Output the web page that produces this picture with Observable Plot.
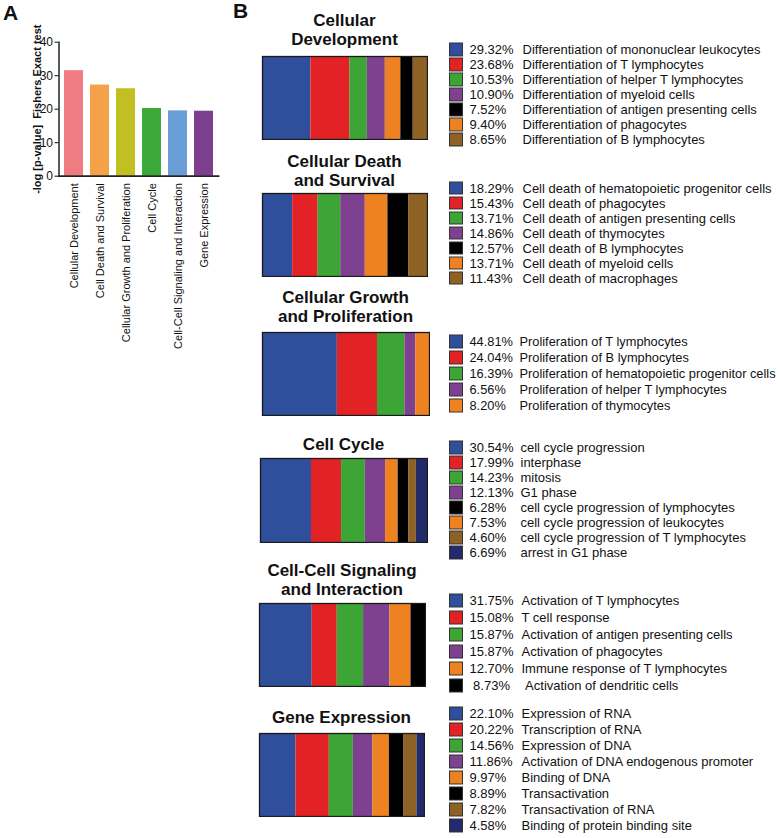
<!DOCTYPE html>
<html><head><meta charset="utf-8">
<script src="https://cdn.jsdelivr.net/npm/d3@7"></script>
<script src="https://cdn.jsdelivr.net/npm/@observablehq/plot@0.6"></script>
<style>
body{margin:0;background:#fff;font-family:"Liberation Sans",Arial,Helvetica,sans-serif;}
#root{position:relative;width:780px;height:838px;overflow:hidden;background:#fff;}
.abs{position:absolute;}
.panel{font-weight:bold;font-size:21px;line-height:21px;color:#111;}
.title{font-weight:bold;font-size:17px;text-align:center;line-height:19px;white-space:pre;color:#111;}
</style></head><body><div id="root"></div>
<script>
// ---------- Panel A data ----------
const categories = ["Cellular Development","Cell Death and Survival","Cellular Growth and Proliferation","Cell Cycle","Cell-Cell Signaling and Interaction","Gene Expression"];
const pValues = [31.5, 27.2, 26.1, 20.2, 19.5, 19.4];
const colorsA = ["#EE7C80","#F5A14A","#C2BF22","#3BAA3A","#6A9ED7","#7D3F8D"];
const yTicksA = [0,10,20,30,40];
const yTitleA = "-log [p-value] \u00a0Fishers Exact test";

// ---------- Panel B data ----------
const palette = {blue:"#2F4E9B", red:"#E32226", green:"#3DA436", purple:"#7D418F", orange:"#EF8220", black:"#000000", brown:"#8E6125", navy:"#212B6C"};
const stackOrder = ["blue","red","green","purple","orange","black","brown","navy"];

const titlesB = ["Cellular\nDevelopment","Cellular Death\nand Survival","Cellular Growth\nand Proliferation","Cell Cycle","Cell-Cell Signaling\nand Interaction","Gene Expression"];

const devPct = [29.32, 23.68, 10.53, 10.90, 7.52, 9.40, 8.65];
const devPctText = ["29.32%","23.68%","10.53%","10.90%","7.52%","9.40%","8.65%"];
const devLabels = ["Differentiation of mononuclear leukocytes","Differentiation of T lymphocytes","Differentiation of helper T lymphocytes","Differentiation of myeloid cells","Differentiation of antigen presenting cells","Differentiation of phagocytes","Differentiation of B lymphocytes"];
const devColors = ["blue","red","green","purple","black","orange","brown"];

const deathPct = [18.29, 15.43, 13.71, 14.86, 12.57, 13.71, 11.43];
const deathPctText = ["18.29%","15.43%","13.71%","14.86%","12.57%","13.71%","11.43%"];
const deathLabels = ["Cell death of hematopoietic progenitor cells","Cell death of phagocytes","Cell death of antigen presenting cells","Cell death of thymocytes","Cell death of B lymphocytes","Cell death of myeloid cells","Cell death of macrophages"];
const deathColors = ["blue","red","green","purple","black","orange","brown"];

const growthPct = [44.81, 24.04, 16.39, 6.56, 8.20];
const growthPctText = ["44.81%","24.04%","16.39%","6.56%","8.20%"];
const growthLabels = ["Proliferation of T lymphocytes","Proliferation of B lymphocytes","Proliferation of hematopoietic progenitor cells","Proliferation of helper T lymphocytes","Proliferation of thymocytes"];
const growthColors = ["blue","red","green","purple","orange"];

const cyclePct = [30.54, 17.99, 14.23, 12.13, 6.28, 7.53, 4.60, 6.69];
const cyclePctText = ["30.54%","17.99%","14.23%","12.13%","6.28%","7.53%","4.60%","6.69%"];
const cycleLabels = ["cell cycle progression","interphase","mitosis","G1 phase","cell cycle progression of lymphocytes","cell cycle progression of leukocytes","cell cycle progression of T lymphocytes","arrest in G1 phase"];
const cycleColors = ["blue","red","green","purple","black","orange","brown","navy"];

const signalPct = [31.75, 15.08, 15.87, 15.87, 12.70, 8.73];
const signalPctText = ["31.75%","15.08%","15.87%","15.87%","12.70%","\u00a08.73%"];
const signalLabels = ["Activation of T lymphocytes","T cell response","Activation of antigen presenting cells","Activation of phagocytes","Immune response of T lymphocytes","\u00a0Activation of dendritic cells"];
const signalColors = ["blue","red","green","purple","orange","black"];

const genePct = [22.10, 20.22, 14.56, 11.86, 9.97, 8.89, 7.82, 4.58];
const genePctText = ["22.10%","20.22%","14.56%","11.86%","9.97%","8.89%","7.82%","4.58%"];
const geneLabels = ["Expression of RNA","Transcription of RNA","Expression of DNA","Activation of DNA endogenous promoter","Binding of DNA","Transactivation","Transactivation of RNA","Binding of protein binding site"];
const geneColors = ["blue","red","green","purple","orange","black","brown","navy"];

// ---------- layout (positions only) ----------
const FONT = '"Liberation Sans", Arial, Helvetica, sans-serif';
const layoutB = [
  {titleTop: 10.6, barX: 261, barY: 55, barW: 167, barH: 85, legY: 47.5, sp: 15.6, labX: 73, fs: 13},
  {titleTop: 151.6, barX: 261, barY: 192, barW: 167, barH: 85, legY: 186, sp: 15.8, labX: 73, fs: 13},
  {titleTop: 287.6, barX: 261, barY: 331, barW: 169, barH: 85, legY: 340, sp: 16.5, labX: 70, fs: 12.8},
  {titleTop: 434.6, barX: 259, barY: 457, barW: 169, barH: 86, legY: 445, sp: 15.6, labX: 71, fs: 13},
  {titleTop: 560.6, barX: 258, barY: 602, barW: 168, barH: 85, legY: 600.5, sp: 17, labX: 72, fs: 13},
  {titleTop: 707.6, barX: 258, barY: 732, barW: 167, barH: 85, legY: 712, sp: 16.3, labX: 72, fs: 13}
];
const groupsB = [
  {pct: devPct, pctText: devPctText, labels: devLabels, colors: devColors},
  {pct: deathPct, pctText: deathPctText, labels: deathLabels, colors: deathColors},
  {pct: growthPct, pctText: growthPctText, labels: growthLabels, colors: growthColors},
  {pct: cyclePct, pctText: cyclePctText, labels: cycleLabels, colors: cycleColors},
  {pct: signalPct, pctText: signalPctText, labels: signalLabels, colors: signalColors},
  {pct: genePct, pctText: genePctText, labels: geneLabels, colors: geneColors}
];

const root = document.getElementById("root");
function place(el, left, top) {
  el.style.position = "absolute";
  el.style.left = left + "px";
  el.style.top = top + "px";
  root.appendChild(el);
  return el;
}
function div(cls, text) { const d = document.createElement("div"); d.className = cls; d.textContent = text; return d; }

// Panel labels
place(div("panel", "A"), 3, 2);
place(div("panel", "B"), 233, 0);

// ---------- Panel A ----------
const dataA = categories.map((c, i) => ({cat: c, v: pValues[i], color: colorsA[i]}));
const plotA = Plot.plot({
  width: 240, height: 380,
  marginLeft: 58.5, marginRight: 22, marginTop: 41.7, marginBottom: 204.3,
  style: {fontFamily: FONT, fontSize: "12px", color: "#111", background: "transparent", overflow: "visible"},
  x: {domain: categories, paddingInner: 0.28, paddingOuter: 0.14, label: null},
  y: {domain: [0, 40], label: null},
  marks: [
    Plot.barY(dataA, {x: "cat", y: "v", fill: "color"}),
    Plot.frame({anchor: "left", stroke: "#222", strokeWidth: 1.5}),
    Plot.frame({anchor: "bottom", stroke: "#222", strokeWidth: 1.8}),
    Plot.axisY({ticks: yTicksA, tickSize: 4, tickPadding: 2, fontSize: 12, label: null, tickFormat: d => String(d)}),
    Plot.axisX({tickRotate: -90, tickSize: 0, tickPadding: 7, fontSize: 11, label: null}),
    Plot.text([yTitleA], {frameAnchor: "left", dx: -22, rotate: -90, textAnchor: "middle", lineAnchor: "middle", fontWeight: "bold", fontSize: 11, fill: "#111"})
  ]
});
place(plotA, 0, 0);

// ---------- Panel B ----------
groupsB.forEach((g, gi) => {
  const L = layoutB[gi];
  // title
  const t = div("title", titlesB[gi]);
  t.style.width = L.barW + "px";
  place(t, L.barX, L.titleTop);

  // stacked bar
  const rows = g.pct.map((p, i) => ({p, key: g.colors[i], color: palette[g.colors[i]]}))
    .sort((a, b) => stackOrder.indexOf(a.key) - stackOrder.indexOf(b.key));
  const bar = Plot.plot({
    width: L.barW, height: L.barH, margin: 1,
    x: {domain: [0, d3.sum(g.pct)], axis: null},
    style: {background: "transparent"},
    marks: [
      Plot.barX(rows, Plot.stackX({x: "p", z: "key", fill: "color", order: null})),
      Plot.frame({stroke: "#1a1a1a", strokeWidth: 1.3})
    ]
  });
  place(bar, L.barX, L.barY);

  // legend
  const n = g.labels.length;
  const legRows = g.labels.map((lab, i) => ({i: String(i), lab, pt: g.pctText[i], color: palette[g.colors[i]]}));
  const pad = 1 - 13 / L.sp;
  const leg = Plot.plot({
    width: 330, height: n * L.sp, margin: 0,
    style: {fontFamily: FONT, fontSize: L.fs + "px", background: "transparent", overflow: "visible"},
    x: {domain: [0, 330], range: [0, 330], axis: null},
    y: {type: "band", domain: legRows.map(d => d.i), range: [0, n * L.sp], paddingInner: pad, paddingOuter: pad / 2, axis: null},
    marks: [
      Plot.barX(legRows, {x1: 0.5, x2: 13.5, y: "i", fill: "color", stroke: "#333", strokeWidth: 1}),
      Plot.text(legRows, {x: 20, y: "i", text: "pt", textAnchor: "start", fontSize: L.fs, fill: "#111"}),
      Plot.text(legRows, {x: L.labX, y: "i", text: "lab", textAnchor: "start", fontSize: L.fs, fill: "#111"})
    ]
  });
  place(leg, 449, L.legY - L.sp / 2);
});
</script></body></html>
